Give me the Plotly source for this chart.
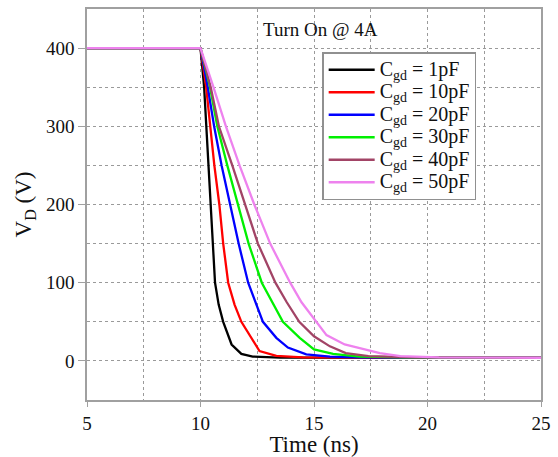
import plotly.graph_objects as go

# ---- data ----
t_1pF = [5, 10, 10.16, 10.25, 10.35, 10.45, 10.53, 10.64, 10.8, 11.0, 11.37, 11.8, 12.3, 13.5, 25]
v_1pF = [400, 400, 350, 300, 250, 200, 150, 100, 72, 50, 21, 9, 5.5, 4.2, 4]

t_10pF = [5, 10, 10.25, 10.42, 10.61, 10.83, 11.0, 11.22, 11.5, 11.8, 12.16, 12.6, 13.34, 14.5, 25]
v_10pF = [400, 400, 350, 300, 250, 200, 150, 100, 72, 50, 33.7, 12.6, 6.3, 4.5, 4]

t_20pF = [5, 10, 10.32, 10.60, 10.93, 11.29, 11.68, 12.1, 12.75, 13.34, 13.85, 14.66, 15.7, 17, 25]
v_20pF = [400, 400, 350, 300, 250, 200, 150, 100, 50, 29.5, 17, 8.4, 5.5, 4.5, 4]

t_30pF = [5, 10, 10.42, 10.74, 11.18, 11.64, 12.12, 12.7, 13.63, 14.37, 15.0, 15.84, 17.0, 19, 25]
v_30pF = [400, 400, 350, 300, 250, 200, 150, 100, 50, 29.5, 14.6, 9, 5.5, 4.5, 4]

t_40pF = [5, 10, 10.45, 10.81, 11.4, 11.95, 12.53, 13.3, 13.8, 14.35, 15.0, 15.7, 16.4, 17.4, 19.5, 25]
v_40pF = [400, 400, 350, 300, 250, 200, 150, 100, 75, 50, 31.5, 18.6, 10, 6, 4.5, 4]

t_50pF = [5, 10, 10.57, 11.12, 11.72, 12.37, 13.07, 13.95, 14.45, 15.1, 15.55, 16.35, 17.2, 17.9, 18.8, 20.5, 25]
v_50pF = [400, 400, 350, 300, 250, 200, 150, 100, 75, 50, 33, 21, 14.5, 10, 6, 4.5, 4]

cgd_labels = ["1pF", "10pF", "20pF", "30pF", "40pF", "50pF"]
series_t = [t_1pF, t_10pF, t_20pF, t_30pF, t_40pF, t_50pF]
series_v = [v_1pF, v_10pF, v_20pF, v_30pF, v_40pF, v_50pF]
colors = ["#000000", "#FF0000", "#0000FF", "#00F000", "#A24466", "#EE82EE"]

x_ticks = [5, 10, 15, 20, 25]
y_ticks = [0, 100, 200, 300, 400]

FONT = "Liberation Serif, Times New Roman, serif"
GRID = "#9a9a9a"
AXIS = "#a0a0a0"

fig = go.Figure()
for lab, t, v, c in zip(cgd_labels, series_t, series_v, colors):
    name = '<span style="font-size:20px">C<sub>gd</sub> = ' + lab + '</span>'
    fig.add_trace(go.Scatter(x=t, y=v, mode="lines", name=name,
                             line=dict(color=c, width=2.3)))

fig.add_annotation(text="Turn On @ 4A", xref="paper", yref="paper",
                   x=0.514, y=0.947, xanchor="center", yanchor="middle",
                   showarrow=False,
                   font=dict(family=FONT, size=19, color="#111"))

fig.update_layout(
    width=558, height=457,
    margin=dict(l=87, r=16, t=7, b=54),
    paper_bgcolor="white", plot_bgcolor="white",
    font=dict(family=FONT, size=17, color="#111"),
    showlegend=True,
    legend=dict(x=0.518, y=0.89, xanchor="left", yanchor="top",
                bordercolor="#909090", borderwidth=1.5, bgcolor="white",
                font=dict(family=FONT, size=15, color="#111"),
                tracegroupgap=0, itemwidth=46),
    xaxis=dict(range=[5, 25], tickvals=x_ticks, ticks="outside", ticklen=5,
               tickcolor=AXIS, showline=True, linecolor=AXIS, linewidth=1.5,
               mirror=True, showgrid=True, gridcolor=GRID, griddash="dot",
               gridwidth=1, zeroline=False,
               minor=dict(dtick=2.5, showgrid=True, gridcolor=GRID, griddash="dot", gridwidth=1),
               title=dict(text="Time (ns)", font=dict(family=FONT, size=23), standoff=0),
               tickfont=dict(family=FONT, size=19)),
    yaxis=dict(range=[-50, 450], tickvals=y_ticks, ticks="outside", ticklen=7,
               tickcolor=AXIS, showline=True, linecolor=AXIS, linewidth=1.5,
               mirror=True, showgrid=True, gridcolor=GRID, griddash="dot",
               gridwidth=1, zeroline=False,
               minor=dict(dtick=50, showgrid=True, gridcolor=GRID, griddash="dot", gridwidth=1),
               title=dict(text="V<sub>D</sub> (V)", font=dict(family=FONT, size=23), standoff=8),
               tickfont=dict(family=FONT, size=19)),
)

fig.write_html("out.html", config={"displayModeBar": False},
               post_script="document.body.style.margin='0';")
